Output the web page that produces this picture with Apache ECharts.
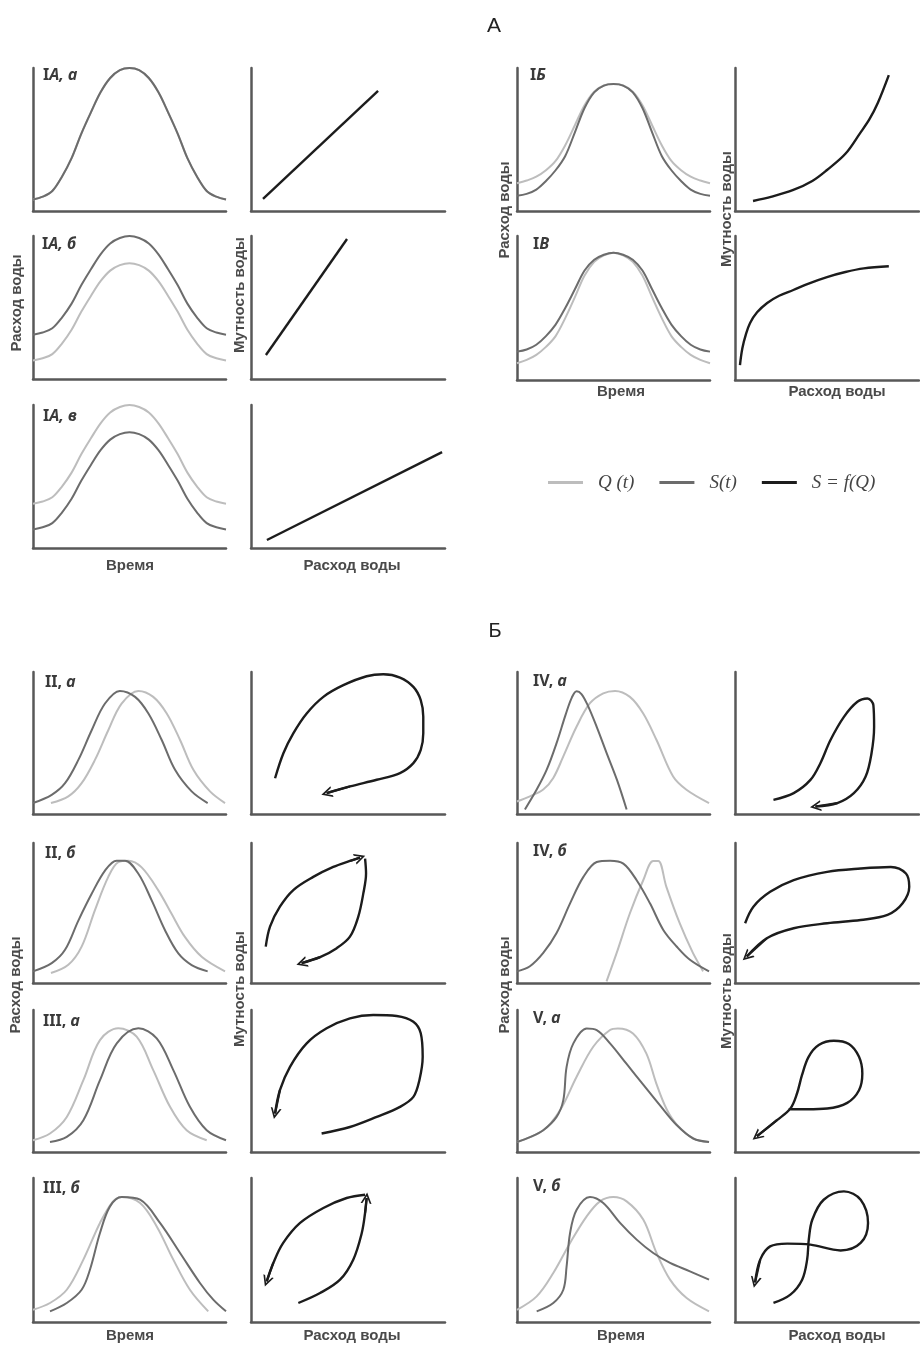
<!DOCTYPE html>
<html><head><meta charset="utf-8">
<style>html,body{margin:0;padding:0;background:#fff}#c{width:920px;height:1345px}</style>
<script src="https://cdn.jsdelivr.net/npm/echarts@6/dist/echarts.min.js"></script>
</head><body><div id="c"></div>
<script>
// ================= DATA (panel units 0..100) =================
const timeX = [0,5,10,15,20,25,30,35,40,45,50,55,60,65,70,75,80,85,90,95,100];

// IA, а  — Q(t) and S(t) coincide
const IAa_Q = [8,10,14,24,37,54,69,83,93,98.5,100,98.5,93,83,69,54,37,24,14,10,8];
const IAa_S = [8,10,14,24,37,54,69,83,93,98.5,100,98.5,93,83,69,54,37,24,14,10,8];
// IA, б
const IAb_Q = [13,14.5,17.4,24.8,34.4,47,58.1,68.4,75.8,79.6,81,79.6,75.8,68.4,58.1,47,34.4,24.8,17.4,14.5,13];
const IAb_S = [31,32.5,35.5,43,52.7,65.5,76.7,87.2,94.8,98.6,100,98.6,94.8,87.2,76.7,65.5,52.7,43,35.5,32.5,31];
// IA, в
const IAv_Q = [31,32.5,35.5,43,52.7,65.5,76.7,87.2,94.8,98.6,100,98.6,94.8,87.2,76.7,65.5,52.7,43,35.5,32.5,31];
const IAv_S = [13,14.5,17.4,24.8,34.4,47,58.1,68.4,75.8,79.6,81,79.6,75.8,68.4,58.1,47,34.4,24.8,17.4,14.5,13];
// IБ
const IBe_Q = [19.4,21.3,24,28.5,35,46,60,74,83.5,87.8,88.8,87.8,83.5,74,60,46,35,28.5,24,21.3,19.4];
const IBe_S = [10.7,12,15,21,28.5,38.5,55,72,83,87.7,88.8,87.7,83,72,55,38.5,28.5,21,15,12,10.7];
// IВ
const IVe_Q = [11.6,14,17.5,23,30.5,43,57.5,72.5,82,86.5,88.4,86.5,82,72.5,57.5,43,30.5,23,17.5,14,11.6];
const IVe_S = [19.7,21.2,24.5,30.5,38.5,50,63,76,83.5,87,88.4,87,83.5,76,63,50,38.5,30.5,24.5,21.2,19.7];

// S = f(Q) relations, section A
const IAa_SQ = [[6.2,8.4],[65.5,84]];
const IAb_SQ = [[7.7,16.8],[49.5,97.9]];
const IAv_SQ = [[8.2,5.6],[98.5,67]];
const IBe_SQ = [[9.8,7],[20,10],[31.7,14.7],[42,21],[50,28.7],[60,40],[68,54.5],[73,64],[77.6,75.5],[83.6,95]];
const IVe_SQ = [[2.7,10.4],[4,22],[6,32],[8.2,39.6],[12,47],[17.5,53.5],[24,58.5],[31.7,62.5],[40,67],[50,71.5],[60,75],[70,77.5],[83.6,79]];

// Section Б, time curves
const IIa_S = [[0,7.7],[9.7,13.5],[16.6,21.7],[23.5,38.1],[30.4,59],[37.3,77.8],[45,86.7],[52.9,82.5],[59.8,70.8],[66.7,52.1],[73.6,31.1],[82.2,15.9],[90.5,7.7]];
const IIa_Q = [[9.3,7.7],[18.3,12.4],[25.2,21.7],[32.1,38.1],[39,59],[45.9,77.8],[54.6,86.7],[62.3,82.5],[69.3,70.8],[76.2,52.1],[83.1,31.1],[91.7,15.9],[99.5,7.7]];
const IIb_S = [[0,8.3],[9.7,14.2],[16.6,23.7],[23.5,44.6],[30.4,63.7],[37.3,80.3],[43.3,87.4],[47.7,87.4],[54.6,78],[61.5,59],[68.4,37.7],[75.3,21.1],[82.2,12.8],[90.5,8.3]];
const IIb_Q = [[9.3,7.1],[18.3,13],[25.2,26],[32.1,52.1],[39,75.8],[44.2,86.4],[49.4,87.4],[56.3,82.6],[65,66],[71.8,49.4],[78.7,32.9],[87.4,18.7],[99.5,8.3]];
const IIIa_Q = [[0,8.3],[8.8,13],[17.5,24.7],[26.1,50.6],[34.7,78.8],[44.2,87.1],[53.7,81.2],[62.3,57.7],[71,31.8],[79.6,15.3],[90,8.3]];
const IIIa_S = [[8.8,7],[17.5,10.6],[26.1,22.4],[34.7,50.6],[43.4,76.5],[54.6,87.1],[64.1,80],[72.7,57.7],[81.3,31.8],[90,15.3],[100,8.3]];
const IIIb_Q = [[0,8.5],[8.8,13.2],[17.5,22.4],[26.1,43.3],[34.7,68.8],[41.5,83.8],[46,86.8],[55.5,82.6],[64.1,66.4],[72.7,43.3],[81.3,22.4],[90.8,7.4]];
const IIIb_S = [[8.8,7.4],[17.5,13.2],[25.2,22.4],[29.5,36.3],[34.7,61.8],[39.9,80.3],[46,86.8],[55.5,84.9],[65.8,68.8],[76.2,47.9],[86.5,27.1],[93.4,15.5],[100,7.4]];
const IVa_Q = [[0,8.8],[6.7,12.4],[13.6,17.2],[18.8,25.4],[24,40.6],[30.9,61.6],[37.8,78],[44.7,85],[50.8,86.7],[58.5,82.5],[65.4,70.8],[72.3,52.1],[80.9,26.4],[87.8,17.1],[99.5,7.7]];
const IVa_S = [[4.1,3.2],[10.2,17.2],[15.4,31.2],[20.5,49.9],[25.2,70],[28.4,82],[30.9,86.5],[33.4,84.5],[36.5,77],[41.3,61.4],[46.5,42.7],[51.8,24],[56.8,3.2]];
const IVb_S = [[0,8.3],[6.7,12],[13.6,21.5],[20.5,35.7],[27.5,56.9],[34.4,75.8],[41.3,86.4],[48.2,87.4],[55.1,85.3],[62,73.4],[68.9,56.9],[75.8,37.9],[82.7,26.1],[89.6,16.6],[99.5,8.3]];
const IVb_Q = [[46.4,1.2],[51.6,21.3],[58.5,49.8],[65.4,73.4],[70.6,87.1],[73.2,87.1],[77.4,68.7],[84.3,42.7],[91.2,21.3],[96.4,8.3]];
const Va_S = [[0,7],[6.7,10.5],[13.6,15.3],[20.5,24.7],[24,36.5],[25.7,60],[29.2,76.5],[36.1,87],[41.3,85.9],[48.2,76.5],[56.8,62],[65.4,47.5],[74,33],[82.7,19],[91.3,9.5],[99.5,7]];
const Va_Q = [[0,7],[13.6,15.3],[22.3,29.4],[30.9,53],[39.5,74.1],[48.2,85.9],[52.3,87],[60.1,83.5],[67,69.4],[72.2,48.2],[77.4,30.5],[82.7,19.5],[91.3,9.6],[99.5,7]];
const Vb_S = [[10.2,7.4],[18.8,13.2],[24,22.4],[25.7,38.6],[27.5,61.8],[30.9,78],[37.8,86.8],[44.7,82.6],[53.4,68.8],[62,57.2],[70.6,47.9],[79.3,41],[89.6,35.2],[99.5,29.4]];
const Vb_Q = [[0,8.5],[10.2,17.8],[18.8,34],[27.5,54.9],[36.1,73.4],[43,83.8],[49.9,86.8],[56.8,83.8],[65.4,71.1],[72.3,47.9],[79.3,29.4],[87.9,16.6],[99.5,7.4]];

// Section Б, S = f(Q) loops (each branch ends with an arrow)
const IIa_SQ = [[12.4,25.2],[16.7,42.8],[21.8,56.8],[28.7,70.8],[37.3,82.5],[47.6,90.7],[59.6,97],[68.2,98.4],[76.8,96.1],[83.7,89.5],[87.5,80.2],[88.8,68.4],[88.8,56.8],[87.5,45.1],[83.7,35.8],[76.8,28.8],[64.8,24.1],[51,19.4],[39,14.7]];
const IIb_SQ1 = [[7.6,26],[9.8,40.3],[14.9,54.5],[21.8,66.4],[32.1,75.8],[42.4,82.9],[51,87.2],[56.2,89.6]];
const IIb_SQ2 = [[58.8,88.9],[59.3,78.2],[57.9,64],[55.3,47.4],[51,33.1],[44.2,24.9],[35.6,18.5],[26.1,14.2]];
const IIIa_SQ = [[36.4,13],[51,17.6],[64.8,24.7],[76.8,31.8],[83.7,38.8],[86.8,50.6],[88.5,67],[87.5,83.6],[83.7,91.7],[75.1,95.8],[63,96.5],[51,94.1],[39,87.1],[28.7,76.5],[20.1,60],[14.9,43.5],[12.4,27.1]];
const IIIb_SQ1 = [[24.4,13.2],[35.6,20.1],[45.9,29.4],[52.7,43.3],[57.1,61.8],[58.8,75.7],[59.6,86.1]];
const IIIb_SQ2 = [[58.8,88.4],[49.3,86.1],[37.3,79.2],[25.3,68.8],[16.6,54.9],[11.5,41],[8.1,28.2]];
const IVa_SQ = [[20.9,10],[31.9,14.7],[41,24],[46.4,35.8],[51.9,52.1],[59.2,68.4],[66.5,79],[72,81.3],[75.2,76.6],[75.6,61.4],[74.2,42.8],[71,26.4],[64.6,14.7],[55.6,7.7],[43.7,5.3]];
const IVb_SQ = [[5.5,42.7],[10,54.5],[19.1,65.1],[31.9,73.5],[50.1,79.4],[68.3,81.8],[84.7,82.9],[92.9,78.2],[94.7,68.7],[91.1,56.9],[82.9,48.6],[68.3,45],[50.1,42.7],[31.9,39.1],[17.3,32],[6.4,18.9]];
const Va_SQ = [[29.1,30.1],[39.2,30.1],[50.1,30.6],[61,34.6],[67.4,43.5],[69.2,55.3],[67.4,67],[61.9,76],[53.7,78.3],[45.5,75.3],[40,67],[36.4,54.1],[33.7,41.2],[30.1,30.6],[22.8,22.4],[11.9,11.1]];
const Vb_SQ = [[20.9,13.2],[30.1,19],[36.5,29.4],[39.2,43.3],[40.1,57.2],[42,71],[48.2,84.9],[59.2,90.7],[68.3,84.9],[72.3,68.8],[68.3,54.9],[57.4,49.7],[41,53.7],[28.4,54.4],[19.1,52.5],[13.7,43.3],[10.9,27.5]];

// ================= LAYOUT & STYLE =================
const C_Q = '#bdbdbd', C_S = '#6c6c6c', C_R = '#1c1c1c', C_AX = '#585858';
const ARROW = 'path://M0,12 L6,0 L12,12 L10,12 L6,4 L2,12 Z';
const L = {
  IAa:[[33,68,193,143],[251,68,194,143]],
  IAb:[[33,236,193,143],[251,236,194,143]],
  IAv:[[33,405,193,143],[251,405,194,143]],
  IBe:[[517,68,193,143],[735,68,184,143]],
  IVe:[[517,236,193,144],[735,236,184,144]],
  IIa:[[33,672,193,142],[251,672,194,142]],
  IIb:[[33,843,193,140],[251,843,194,140]],
  IIIa:[[33,1010,193,142],[251,1010,194,142]],
  IIIb:[[33,1178,193,144],[251,1178,194,144]],
  IVa:[[517,672,193,142],[735,672,184,142]],
  IVb:[[517,843,193,140],[735,843,184,140]],
  Va:[[517,1010,193,142],[735,1010,184,142]],
  Vb:[[517,1178,193,144],[735,1178,184,144]]
};

const grids=[], xAxes=[], yAxes=[], series=[];
function addGrid(r){
  const i=grids.length;
  grids.push({left:r[0],top:r[1],width:r[2],height:r[3],containLabel:false});
  const ax={gridIndex:i,type:'value',min:0,max:100,
    axisLine:{show:true,onZero:false,lineStyle:{color:C_AX,width:2.5}},
    axisTick:{show:false},axisLabel:{show:false},splitLine:{show:false}};
  xAxes.push(Object.assign({},ax)); yAxes.push(Object.assign({},ax));
  return i;
}
const toPairs = ys => timeX.map((x,k)=>[x,ys[k]]);
function curve(i,name,data,color,w,z){
  series.push({type:'line',name,xAxisIndex:i,yAxisIndex:i,data,smooth:0.35,
    showSymbol:false,symbol:'none',color,clip:false,z:z||2,
    lineStyle:{color,width:w},emphasis:{disabled:true},silent:true});
}
function arrow(i,data){
  const a=data[data.length-2], b=data[data.length-1];
  series.push({type:'lines',name:'S = f(Q)',coordinateSystem:'cartesian2d',xAxisIndex:i,yAxisIndex:i,
    data:[{coords:[a,b]}],symbol:['none',ARROW],symbolSize:[10,11],color:C_R,z:4,
    lineStyle:{color:C_R,width:2.2,opacity:1},silent:true});
}
function panel(key,Q,S,rels,arrows){
  const ti=addGrid(L[key][0]), ri=addGrid(L[key][1]);
  curve(ti,'Q (t)',Q,C_Q,2,2);
  curve(ti,'S(t)',S,C_S,2,3);
  rels.forEach(r=>{ curve(ri,'S = f(Q)',r,C_R,2.4,3); if(arrows) arrow(ri,r); });
}
panel('IAa',toPairs(IAa_Q),toPairs(IAa_S),[IAa_SQ],false);
panel('IAb',toPairs(IAb_Q),toPairs(IAb_S),[IAb_SQ],false);
panel('IAv',toPairs(IAv_Q),toPairs(IAv_S),[IAv_SQ],false);
panel('IBe',toPairs(IBe_Q),toPairs(IBe_S),[IBe_SQ],false);
panel('IVe',toPairs(IVe_Q),toPairs(IVe_S),[IVe_SQ],false);
panel('IIa',IIa_Q,IIa_S,[IIa_SQ],true);
panel('IIb',IIb_Q,IIb_S,[IIb_SQ1,IIb_SQ2],true);
panel('IIIa',IIIa_Q,IIIa_S,[IIIa_SQ],true);
panel('IIIb',IIIb_Q,IIIb_S,[IIIb_SQ1,IIIb_SQ2],true);
panel('IVa',IVa_Q,IVa_S,[IVa_SQ],true);
panel('IVb',IVb_Q,IVb_S,[IVb_SQ],true);
panel('Va',Va_Q,Va_S,[Va_SQ],true);
panel('Vb',Vb_Q,Vb_S,[Vb_SQ],true);

// ================= TEXTS =================
const AXF = 'bold 15px "Liberation Sans", Arial, sans-serif';
function txt(text,x,y,rot,font,fill){
  return {type:'text',x,y,rotation:rot||0,silent:true,z:10,
    style:{text,font:font||AXF,fill:fill||'#4a4a4a',align:'center',verticalAlign:'middle',textAlign:'center',textVerticalAlign:'middle'}};
}
const V = Math.PI/2;
const graphics = [
  txt('А',494,26,0,'21px "Liberation Sans", Arial, sans-serif','#222'),
  txt('Б',495,631,0,'20px "Liberation Sans", Arial, sans-serif','#222'),
  txt('Время',130,566), txt('Расход воды',352,566),
  txt('Время',621,392), txt('Расход воды',837,392),
  txt('Время',130,1336), txt('Расход воды',352,1336),
  txt('Время',621,1336), txt('Расход воды',837,1336),
  txt('Расход воды',17,303,V), txt('Мутность воды',240,295,V),
  txt('Расход воды',505,210,V), txt('Мутность воды',727,209,V),
  txt('Расход воды',16,985,V), txt('Мутность воды',240,989,V),
  txt('Расход воды',505,985,V), txt('Мутность воды',727,991,V)
];
const PL = [
  ['I','А, а',43,75.5],['I','А, б',42,244],['I','А, в',43,416],
  ['I','Б',530,75],['I','В',533,244],
  ['II, ','а',45,682],['II, ','б',45,853],['III, ','а',43,1021],['III, ','б',43,1188],
  ['IV, ','а',533,681],['IV, ','б',533,851],['V, ','а',533,1018],['V, ','б',533,1186]
];
const LF = '"Noto Sans", "Open Sans", sans-serif';
PL.forEach(p=>{
  graphics.push({type:'text',x:p[2],y:p[3],silent:true,z:10,
    style:{text:'{r|'+p[0]+'}{i|'+p[1]+'}',align:'left',verticalAlign:'middle',textAlign:'left',textVerticalAlign:'middle',
      rich:{r:{fontFamily:LF,fontWeight:'bold',fontSize:16,fill:'#3a3a3a',color:'#3a3a3a'},
            i:{fontFamily:LF,fontWeight:'bold',fontStyle:'italic',fontSize:16,fill:'#3a3a3a',color:'#3a3a3a'}}}});
});

const chart = echarts.init(document.getElementById('c'),null,{renderer:'canvas'});
chart.setOption({
  backgroundColor:'#fff', animation:false,
  grid:grids, xAxis:xAxes, yAxis:yAxes, series,
  legend:{data:[{name:'Q (t)',icon:'rect'},{name:'S(t)',icon:'rect'},{name:'S = f(Q)',icon:'rect'}],
    left:543,top:468,itemWidth:35,itemHeight:3,itemGap:25,selectedMode:false,
    textStyle:{fontFamily:'"Liberation Serif", serif',fontStyle:'italic',fontSize:19,color:'#444',padding:[0,0,0,10]}},
  graphic:graphics
});
</script></body></html>
